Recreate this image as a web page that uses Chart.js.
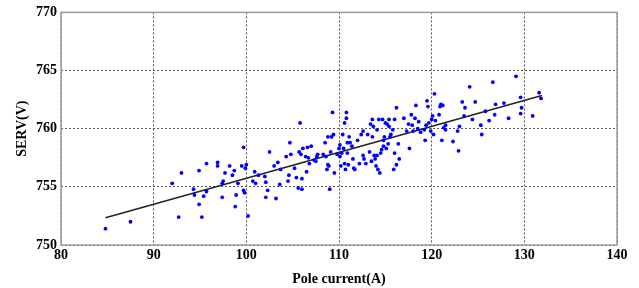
<!DOCTYPE html>
<html>
<head>
<meta charset="utf-8">
<script src="https://cdn.jsdelivr.net/npm/chart.js@4"></script>
<style>
  html, body { margin: 0; padding: 0; background: #fff; }
  #wrap { width: 639px; height: 288px; }
</style>
</head>
<body>
<div id="wrap"><canvas id="servChart" width="639" height="288"></canvas></div>
<script>
// measured samples: pole current (A) vs SERV (V)
const currentA = [
  84.8, 87.5, 92.0, 92.7, 93.0, 94.3, 94.4, 94.9, 94.9, 95.2, 95.4, 95.7, 95.7, 96.9, 96.9,
  97.4, 97.4, 97.5, 97.7, 98.2, 98.5, 98.7, 98.8, 98.9, 99.1, 99.5, 99.7, 99.7, 99.8, 99.9,
  100.0, 100.2, 100.7, 100.9, 101.0, 101.3, 102.0, 102.1, 102.1, 102.3, 102.5, 103.0, 103.2, 103.4, 103.6,
  103.7, 104.3, 104.5, 104.6, 104.7, 104.8, 105.2, 105.4, 105.6, 105.7, 105.8, 105.9, 106.0, 106.0, 106.1,
  106.4, 106.5, 106.6, 106.7, 106.8, 107.0, 107.3, 107.5, 107.6, 107.7, 108.3, 108.5, 108.6, 108.7, 108.8,
  108.8, 108.9, 109.0, 109.1, 109.2, 109.3, 109.4, 109.5, 109.8, 110.0, 110.1, 110.1, 110.2, 110.3, 110.4,
  110.5, 110.6, 110.6, 110.7, 110.8, 110.8, 110.9, 110.9, 111.0, 111.1, 111.2, 111.4, 111.5, 111.6, 111.7,
  112.0, 112.2, 112.4, 112.6, 112.6, 112.7, 112.9, 113.1, 113.3, 113.4, 113.5, 113.6, 113.6, 113.7, 113.8,
  113.9, 114.0, 114.1, 114.1, 114.2, 114.3, 114.4, 114.5, 114.6, 114.7, 114.8, 114.8, 114.9, 115.0, 115.1,
  115.2, 115.3, 115.4, 115.4, 115.5, 115.6, 115.8, 115.9, 116.0, 116.0, 116.2, 116.2, 116.4, 116.5, 117.0,
  117.3, 117.5, 117.6, 117.8, 117.9, 118.0, 118.2, 118.3, 118.5, 118.6, 118.8, 119.2, 119.3, 119.4, 119.5,
  119.6, 119.7, 119.9, 120.0, 120.1, 120.2, 120.3, 120.4, 120.8, 120.9, 121.0, 121.1, 121.2, 121.3, 121.5,
  121.5, 122.3, 122.8, 122.9, 123.0, 123.3, 123.5, 123.6, 124.1, 124.4, 124.7, 125.3, 125.4, 125.8, 126.2,
  126.6, 126.8, 126.9, 127.8, 128.3, 129.1, 129.6, 129.6, 129.7, 130.9, 131.6, 131.8
];
const servV = [
  751.4, 752.0, 755.3, 752.4, 756.2, 754.8, 754.3, 756.4, 753.5, 752.4, 754.2, 757.0, 754.6, 757.1, 756.8,
  755.3, 754.1, 755.5, 756.2, 756.8, 756.0, 756.4, 753.3, 754.3, 755.3, 756.8, 758.4, 754.7, 754.5, 756.6,
  756.9, 752.5, 755.5, 756.3, 755.3, 756.0, 755.9, 755.4, 754.1, 754.7, 758.0, 756.8, 754.0, 757.1, 755.2,
  756.5, 757.6, 755.5, 756.0, 758.8, 757.8, 756.6, 755.8, 754.9, 758.0, 760.5, 757.8, 755.7, 754.8, 758.3,
  757.6, 756.3, 758.4, 757.5, 757.0, 758.5, 757.3, 757.2, 757.6, 757.8, 757.8, 758.8, 757.6, 756.5, 759.3,
  756.9, 756.8, 754.8, 758.0, 759.3, 761.4, 759.5, 756.2, 757.8, 758.3, 758.6, 757.6, 756.8, 757.9, 759.5,
  758.3, 760.5, 757.0, 756.5, 760.9, 761.4, 758.8, 757.9, 756.9, 759.3, 758.8, 758.5, 757.4, 756.6, 756.5,
  759.0, 757.0, 759.5, 759.8, 757.7, 757.4, 757.0, 759.5, 758.0, 760.4, 757.2, 760.8, 759.3, 760.2, 757.7,
  757.4, 756.8, 759.9, 757.7, 756.5, 760.8, 756.2, 757.9, 758.2, 760.8, 758.5, 759.0, 759.3, 760.5, 758.3,
  760.4, 758.7, 760.8, 760.2, 759.3, 759.5, 759.9, 756.5, 760.8, 757.9, 761.8, 756.9, 758.7, 757.4, 760.9,
  759.8, 760.4, 758.3, 761.2, 760.3, 759.8, 760.9, 762.0, 760.0, 760.6, 759.7, 759.9, 759.0, 760.3, 762.4,
  761.9, 760.5, 759.8, 760.8, 761.1, 759.5, 763.0, 760.7, 761.2, 761.9, 762.1, 759.0, 762.0, 760.1, 760.3,
  759.9, 758.9, 759.8, 758.1, 760.2, 762.3, 761.1, 761.8, 763.6, 760.8, 762.3, 760.3, 759.5, 761.5, 760.7,
  764.0, 761.2, 762.1, 762.2, 760.9, 764.5, 762.7, 761.3, 761.8, 761.1, 763.1, 762.6
];
// fitted line end points
const fitX = [84.8, 131.9];
const fitY = [752.35, 762.85];

const xTicks = [80, 90, 100, 110, 120, 130, 140];
const yTicks = [750, 755, 760, 765, 770];

const serif = "'Liberation Serif', 'Times New Roman', serif";

const points = currentA.map((x, i) => ({ x: x, y: servV[i] }));
const fitLine = fitX.map((x, i) => ({ x: x, y: fitY[i] }));

// box around the plot area, like the original figure
const frame = {
  id: 'frame',
  afterDraw(chart) {
    const a = chart.chartArea;
    const ctx = chart.ctx;
    ctx.save();
    ctx.strokeStyle = '#9a9a9a';
    ctx.lineWidth = 1.5;
    ctx.strokeRect(a.left, a.top, a.right - a.left, a.bottom - a.top);
    ctx.restore();
  }
};

new Chart(document.getElementById('servChart').getContext('2d'), {
  type: 'scatter',
  data: {
    datasets: [
      {
        label: 'fit',
        type: 'line',
        data: fitLine,
        borderColor: '#222',
        borderWidth: 1.5,
        pointRadius: 0,
        fill: false,
        order: 2
      },
      {
        label: 'SERV',
        data: points,
        backgroundColor: '#0000ff',
        borderColor: '#0000ff',
        borderWidth: 0,
        pointRadius: 1.9,
        order: 1
      }
    ]
  },
  options: {
    responsive: false,
    animation: false,
    layout: { padding: { top: 12, right: 22, left: 0, bottom: 0 } },
    plugins: {
      legend: { display: false },
      tooltip: { enabled: false }
    },
    scales: {
      x: {
        type: 'linear',
        min: 80,
        max: 140,
        afterBuildTicks: s => { s.ticks = xTicks.map(v => ({ value: v })); },
        afterFit: s => { s.height = 43; },
        grid: { color: '#555', lineWidth: 1, drawTicks: false },
        border: { display: false, dash: [2, 2] },
        ticks: { color: '#000', padding: 2, font: { family: serif, size: 14, weight: 'bold' } },
        title: {
          display: true,
          text: 'Pole current(A)',
          color: '#000',
          padding: { top: 2, bottom: 0 },
          font: { family: serif, size: 14, weight: 'bold' }
        }
      },
      y: {
        type: 'linear',
        min: 750,
        max: 770,
        afterBuildTicks: s => { s.ticks = yTicks.map(v => ({ value: v })); },
        afterFit: s => { s.width = 61; },
        grid: { color: '#555', lineWidth: 1, drawTicks: false },
        border: { display: false, dash: [2, 2] },
        ticks: { color: '#000', padding: 4, font: { family: serif, size: 14, weight: 'bold' } },
        title: {
          display: true,
          text: 'SERV(V)',
          color: '#000',
          padding: { top: 14, bottom: 0 },
          font: { family: serif, size: 14, weight: 'bold' }
        }
      }
    }
  },
  plugins: [frame]
});
</script>
</body>
</html>
